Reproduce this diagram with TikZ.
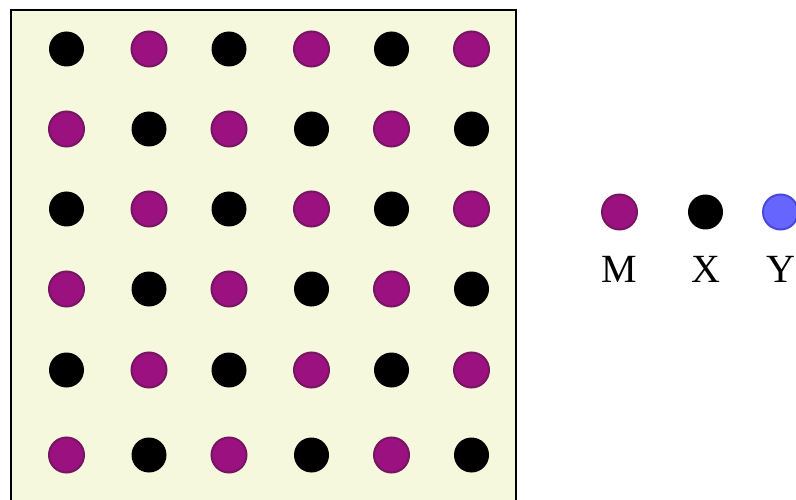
\documentclass[tikz,border=0pt]{standalone}
\usepackage{fontspec}
\setmainfont{Liberation Serif}
\definecolor{cellbg}{RGB}{246,248,222}
\definecolor{mfill}{RGB}{155,17,127}
\definecolor{mline}{RGB}{118,22,98}
\definecolor{yfill}{RGB}{102,102,255}
\definecolor{yline}{RGB}{72,72,222}

\begin{document}
\begin{tikzpicture}[
  x=1pt, y=-1pt,
  atomM/.style={circle, fill=mfill, draw=mline, line width=2pt, minimum size=35pt, inner sep=0pt},
  atomX/.style={circle, fill=black, minimum size=35pt, inner sep=0pt},
  atomY/.style={circle, fill=yfill, draw=yline, line width=2pt, minimum size=35pt, inner sep=0pt},
  key/.style={font=\fontsize{40}{44}\selectfont, inner sep=0pt, anchor=base}
]
\useasboundingbox (0,0) rectangle (796,500);
% unit cell
\draw[line width=2pt, fill=cellbg] (11,10) rectangle (516,520);
% 6x6 checkerboard of M and X sites
\foreach \y [count=\r] in {49,129,209,289,370,455} {
  \foreach \x [count=\c] in {66.5,149,229,311.5,391.5,471.5} {
    \pgfmathparse{int(mod(\r+\c,2))}
    \ifnum\pgfmathresult=0
      \node[atomX] (s-\r-\c) at (\x,\y) {};
    \else
      \node[atomM] (s-\r-\c) at (\x,\y) {};
    \fi
  }
}
% legend
\node[atomM] (kM) at (619.5,212) {};
\node[atomX] (kX) at (705.5,212) {};
\node[atomY] (kY) at (780.5,212) {};
\node[key] (lM) at (619.5,283) {M};
\node[key] (lX) at (705.5,283) {X};
\node[key] (lY) at (780.5,283) {Y};
\end{tikzpicture}
\end{document}
